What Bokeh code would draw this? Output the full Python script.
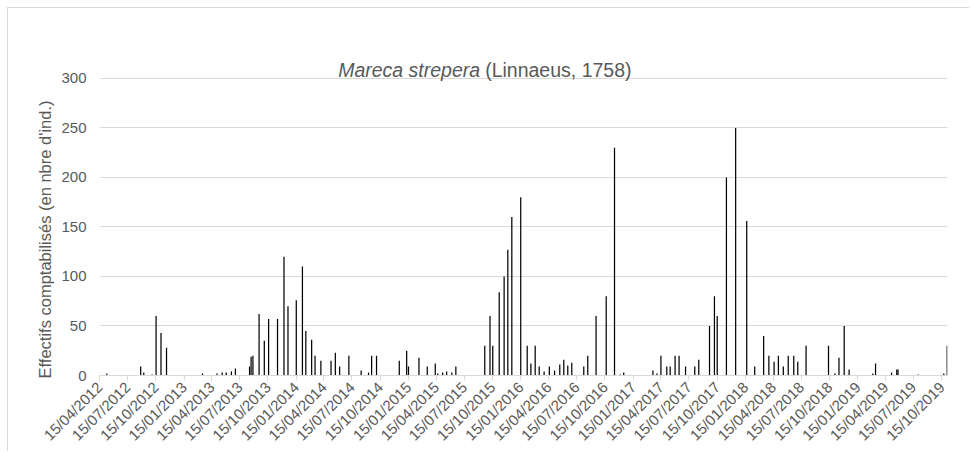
import pandas as pd
from math import pi
from bokeh.plotting import figure
from bokeh.models import Range1d, FixedTicker, DatetimeTickFormatter, Label, ColumnDataSource, Title
from bokeh.embed import file_html
from bokeh.resources import INLINE

# ---- data ----
dates = [
    "2012-05-09", "2012-08-27", "2012-09-06", "2012-10-03", "2012-10-16", "2012-11-01", "2012-11-19",
    "2013-03-16", "2013-05-02", "2013-05-19", "2013-06-01", "2013-06-18", "2013-07-01",
    "2013-08-16", "2013-08-21", "2013-08-27", "2013-09-16", "2013-10-03", "2013-10-17", "2013-11-15",
    "2013-12-06", "2013-12-19", "2014-01-15", "2014-02-04", "2014-02-15", "2014-03-06", "2014-03-17",
    "2014-04-05", "2014-05-08", "2014-05-22", "2014-06-05", "2014-07-05", "2014-08-14", "2014-09-07",
    "2014-09-17", "2014-10-03", "2014-12-16", "2015-01-09", "2015-01-15", "2015-02-18", "2015-03-17",
    "2015-04-12", "2015-04-20", "2015-05-06", "2015-05-19", "2015-06-05", "2015-06-18",
    "2015-09-20", "2015-10-07", "2015-10-16", "2015-11-06", "2015-11-22", "2015-12-04", "2015-12-17",
    "2016-01-15", "2016-02-05", "2016-02-17", "2016-03-02", "2016-03-15", "2016-03-31", "2016-04-17",
    "2016-05-04", "2016-05-21", "2016-06-03", "2016-06-16", "2016-06-29", "2016-08-07", "2016-08-20",
    "2016-09-16", "2016-10-19", "2016-11-15", "2016-12-04", "2016-12-15",
    "2017-03-20", "2017-04-02", "2017-04-15", "2017-05-04", "2017-05-15", "2017-05-31", "2017-06-13",
    "2017-07-04", "2017-08-03", "2017-08-16", "2017-09-20", "2017-10-06", "2017-10-15", "2017-11-14",
    "2017-12-14", "2018-01-19", "2018-02-14", "2018-03-15", "2018-04-01", "2018-04-18", "2018-05-02",
    "2018-05-18", "2018-06-03", "2018-06-21", "2018-07-04", "2018-07-31", "2018-10-12", "2018-11-02",
    "2018-11-15", "2018-12-02", "2018-12-18", "2019-03-05", "2019-03-14", "2019-05-05", "2019-05-22",
    "2019-05-26", "2019-07-31", "2019-10-22", "2019-11-02",
]
counts = [
    2, 9, 3, 1, 60, 43, 28,
    2, 2, 3, 3, 4, 7,
    9, 19, 20, 62, 35, 57, 57,
    120, 70, 76, 110, 45, 36, 20,
    15, 15, 23, 9, 20, 5, 3,
    20, 20, 15, 25, 9, 18, 9,
    12, 2, 3, 4, 3, 9,
    30, 60, 30, 84, 100, 127, 160,
    180, 30, 12, 30, 9, 4, 9,
    5, 11, 16, 10, 13, 9, 20,
    60, 80, 230, 1, 3,
    5, 2, 20, 9, 9, 20, 20,
    9, 9, 16, 50, 80, 60, 200,
    250, 156, 9, 40, 20, 14, 20,
    9, 20, 20, 14, 30, 30, 2,
    18, 50, 6, 2, 12, 3, 6,
    6, 1, 2, 30,
]
tick_dates = [f"{y}-{m:02d}-15" for y in range(2012, 2020) for m in (1, 4, 7, 10)
              if "2012-04-15" <= f"{y}-{m:02d}-15" <= "2019-10-15"]
y_ticks = [0, 50, 100, 150, 200, 250, 300]
x_start, x_end = "2012-04-15", "2019-11-03"
title_italic = "Mareca strepera"
title_rest = "(Linnaeus, 1758)"
y_label = "Effectifs comptabilisés  (en nbre d'ind.)"

def ms(d):
    return pd.Timestamp(d).value // 10**6

src = ColumnDataSource(dict(x=[pd.Timestamp(d) for d in dates], top=counts))

FONT = "Liberation Sans"
GREY = "#595959"

p = figure(width=962, height=444, output_backend="svg", toolbar_location=None,
           x_axis_type="datetime",
           x_range=Range1d(ms(x_start), ms(x_end)), y_range=Range1d(0, 350.5),
           min_border_left=91, min_border_right=23, min_border_top=20, min_border_bottom=77)

p.vbar(x="x", top="top", width=4 * 24 * 3600 * 1000, source=src,
       fill_color="#000000", line_color=None)

p.outline_line_color = None
p.xgrid.grid_line_color = None
p.ygrid.grid_line_color = "#d9d9d9"
p.ygrid.grid_line_width = 1

p.xaxis.ticker = FixedTicker(ticks=[ms(d) for d in tick_dates])
fmt = "%d/%m/%Y"
p.xaxis.formatter = DatetimeTickFormatter(milliseconds=fmt, seconds=fmt, minsec=fmt, minutes=fmt,
                                          hourmin=fmt, hours=fmt, days=fmt, months=fmt, years=fmt)
p.xaxis.major_label_orientation = pi / 4
p.xaxis.axis_line_color = "#d9d9d9"
p.xaxis.major_tick_line_color = "#d9d9d9"
p.xaxis.major_tick_out = 5
p.xaxis.major_tick_in = 0
p.xaxis.minor_tick_line_color = None
p.xaxis.major_label_text_font = FONT
p.xaxis.major_label_text_font_size = "15px"
p.xaxis.major_label_text_color = GREY
p.xaxis.major_label_standoff = 4

p.yaxis.ticker = FixedTicker(ticks=y_ticks)
p.yaxis.axis_line_color = None
p.yaxis.major_tick_line_color = None
p.yaxis.major_tick_out = 0
p.yaxis.major_tick_in = 0
p.yaxis.minor_tick_line_color = None
p.yaxis.major_label_text_font = FONT
p.yaxis.major_label_text_font_size = "15px"
p.yaxis.major_label_text_color = GREY
p.yaxis.major_label_standoff = 13

p.add_layout(Title(text=y_label, align="left", offset=-3, standoff=10,
                   text_font=FONT, text_font_size="16.5px", text_font_style="normal",
                   text_color=GREY), "left")

anchor = ms("2015-09-05")
p.add_layout(Label(x=anchor, y=309, text=title_italic, text_align="right", text_baseline="alphabetic",
                   text_font=FONT, text_font_size="19.5px", text_font_style="italic", text_color=GREY))
p.add_layout(Label(x=anchor, y=309, x_offset=5, text=title_rest, text_align="left",
                   text_baseline="alphabetic",
                   text_font=FONT, text_font_size="19.5px", text_color=GREY))

p.styles = {"margin": "7px 0 0 7px",
            "border-top": "1px solid #d9d9d9", "border-left": "1px solid #d9d9d9"}

open("out.html", "w").write(file_html(p, INLINE))
